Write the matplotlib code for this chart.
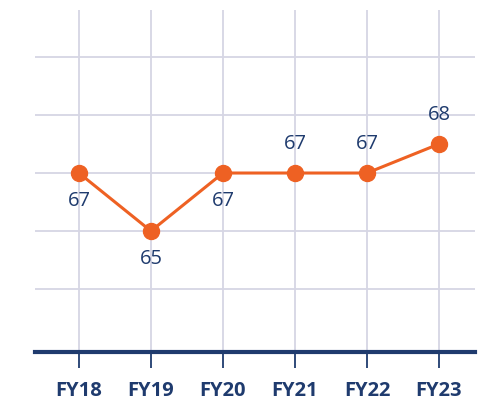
import matplotlib
matplotlib.use("Agg")
import matplotlib.pyplot as plt

categories = ["FY18", "FY19", "FY20", "FY21", "FY22", "FY23"]
values = [67, 65, 67, 67, 67, 68]
label_pos = ["below", "below", "below", "above", "above", "above"]

orange = "#EE6123"
navy = "#1F3B6E"
grid_c = "#D6D6E4"

plt.rcParams['font.family'] = ['Open Sans', 'DejaVu Sans']

fig = plt.figure(figsize=(4.81, 4.03), dpi=100)
ax = fig.add_axes([35/481, 51.3/403, 440/481, 341.7/403])
x = list(range(len(categories)))
ax.plot(x, values, color=orange, lw=2.2, marker='o', ms=11.5, zorder=3)

for xi, v, p in zip(x, values, label_pos):
    off = 21 if p == "above" else -20
    ax.annotate(str(v), (xi, v), xytext=(0, off), textcoords='offset points',
                ha='center', va='center', fontsize=14.5, color=navy)

ax.set_xlim(-0.61, 5.5)
ax.set_ylim(60.84, 72.62)
ax.set_yticks([63, 65, 67, 69, 71])
ax.set_xticks(x)
ax.set_xticklabels(categories, fontsize=14.5, fontweight='bold', color=navy)
ax.grid(True, color=grid_c, lw=1.3)
ax.set_axisbelow(True)
for s in ['top', 'right', 'left']:
    ax.spines[s].set_visible(False)
ax.spines['bottom'].set_color(navy)
ax.spines['bottom'].set_linewidth(3)
ax.tick_params(axis='y', length=0, labelleft=False)
ax.tick_params(axis='x', length=11.5, width=1.3, color=navy, pad=9.5)

fig.savefig("out.png", dpi=100)
